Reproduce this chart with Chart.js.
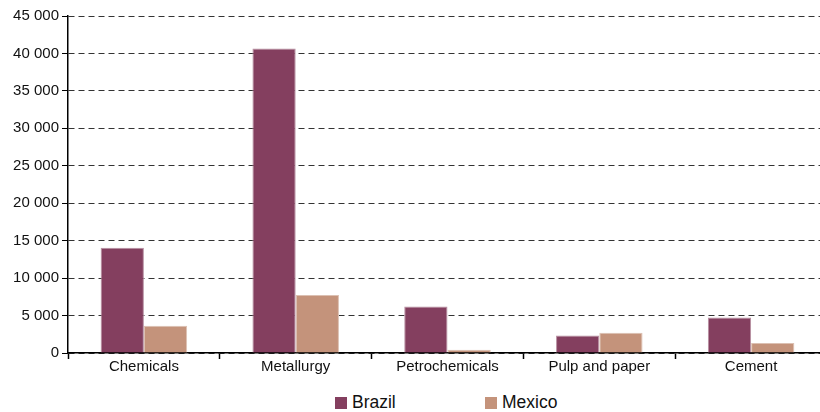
<!DOCTYPE html>
<html>
<head>
<meta charset="utf-8">
<script src="https://cdn.jsdelivr.net/npm/chart.js@4/dist/chart.umd.min.js"></script>
<style>
  html, body { margin: 0; padding: 0; background: #fff; overflow: hidden; }
  #wrap { position: relative; width: 820px; height: 412px; overflow: hidden; }
  #box { position: absolute; left: 0; top: 0; width: 828px; height: 380px; }
  #legend { position: absolute; top: 392px; left: 0; width: 820px; font-family: "Liberation Sans", Arial, sans-serif; font-size: 17.5px; color: #111; }
  .item { position: absolute; display: flex; align-items: center; }
  .sw { width: 12px; height: 12px; margin-right: 5px; }
</style>
</head>
<body>
<div id="wrap">
  <div id="box"><canvas id="chart"></canvas></div>
  <div id="legend"></div>
</div>
<script>
const categories = ["Chemicals", "Metallurgy", "Petrochemicals", "Pulp and paper", "Cement"];
const brazil = [14050, 40650, 6200, 2350, 4750];
const mexico = [3650, 7750, 450, 2700, 1350];
const seriesNames = ["Brazil", "Mexico"];
const colors = ["#843f5f", "#c4937b"];
const edges = ["#b78fa1", "#dcc0b2"];

const ctx = document.getElementById("chart").getContext("2d");
new Chart(ctx, {
  type: "bar",
  data: {
    labels: categories,
    datasets: [
      { label: seriesNames[0], data: brazil, backgroundColor: colors[0], borderColor: edges[0], borderWidth: 1 },
      { label: seriesNames[1], data: mexico, backgroundColor: colors[1], borderColor: edges[1], borderWidth: 1 }
    ]
  },
  options: {
    responsive: true,
    maintainAspectRatio: false,
    animation: false,
    layout: { padding: { top: 16, right: 1, left: 0, bottom: 0 } },
    datasets: { bar: { categoryPercentage: 0.57, barPercentage: 1 } },
    plugins: { legend: { display: false }, tooltip: { enabled: false } },
    scales: {
      x: {
        offset: true,
        afterFit: (s) => { s.height = 27; },
        border: { color: "#000", width: 1.5 },
        grid: { offset: true, drawOnChartArea: false, drawTicks: true, tickLength: 6, tickColor: "#000", tickWidth: 1.5 },
        ticks: { color: "#111", font: { family: "Liberation Sans, Arial, sans-serif", size: 15 }, padding: -1 }
      },
      y: {
        min: 0,
        max: 45000,
        afterFit: (s) => { s.width = 68; },
        border: { color: "#000", width: 1.5, dash: [6, 4] },
        grid: { color: "#333", tickBorderDash: [], tickLength: 6, tickColor: "#000", tickWidth: 1 },
        ticks: {
          stepSize: 5000,
          color: "#111",
          padding: 3,
          font: { family: "Liberation Sans, Arial, sans-serif", size: 15 },
          callback: (v) => String(v).replace(/\B(?=(\d{3})+(?!\d))/g, " ")
        }
      }
    }
  }
});

const legend = document.getElementById("legend");
const legendX = [335, 485];
seriesNames.forEach((name, i) => {
  const item = document.createElement("div");
  item.className = "item";
  item.style.left = legendX[i] + "px";
  item.innerHTML = '<span class="sw" style="background:' + colors[i] + '"></span>' + name;
  legend.appendChild(item);
});
</script>
</body>
</html>
